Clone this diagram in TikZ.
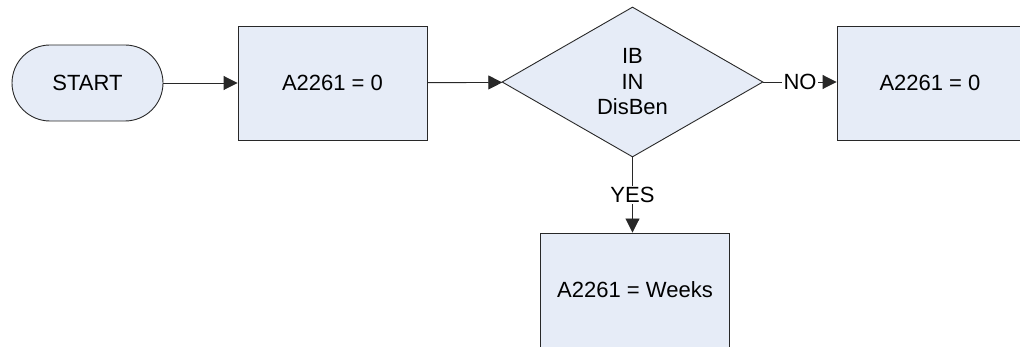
\documentclass[tikz,border=0pt]{standalone}
\usepackage{fontspec}
\setmainfont{Liberation Sans}
\usetikzlibrary{arrows.meta,shapes.geometric}
\definecolor{boxfill}{RGB}{230,236,247}
\definecolor{edge}{RGB}{40,40,40}
\tikzset{
  base/.style={draw=edge, line width=0.9pt, fill=boxfill, font=\fontsize{22}{25.5}\selectfont, inner sep=0pt, align=center},
  procbox/.style={base, rectangle, minimum width=189pt, minimum height=114pt},
  termbox/.style={base, rectangle, rounded corners=38pt, minimum width=151pt, minimum height=76pt},
  decbox/.style={base, diamond, minimum width=261pt, minimum height=150pt},
  conn/.style={draw=edge, line width=0.9pt, -{Triangle[length=14pt,width=14pt]}},
  lbl/.style={fill=white, draw=none, font=\fontsize{22}{25}\selectfont, inner sep=1.5pt}
}
\begin{document}
\begin{tikzpicture}[x=1pt,y=-1pt]
\useasboundingbox (0,0) rectangle (1020,347);
\clip (0,0) rectangle (1020,347);
\node[termbox] (start) at (87.5,83) {START};
\node[procbox] (a1) at (332.5,83) {A2261 = 0};
\node[decbox] (dec) at (632.5,82) {IB\\IN\\DisBen};
\node[procbox, minimum width=186pt] (a3) at (930,83) {A2261 = 0};
\node[procbox, minimum height=118pt] (a4) at (635,292) {};
\node[font=\fontsize{22}{25.5}\selectfont] (a4t) at (635,290) {A2261 = Weeks};
\draw[conn] (start) -- (a1);
\draw[conn] (a1) -- (dec);
\draw[conn] (dec.east) -- (a3.west |- dec.east);
\draw[conn] (dec.south) -- (dec.south |- a4.north);
\node[lbl] (no) at (800,82) {NO};
\node[lbl] (yes) at (632.5,195) {YES};
\end{tikzpicture}
\end{document}
